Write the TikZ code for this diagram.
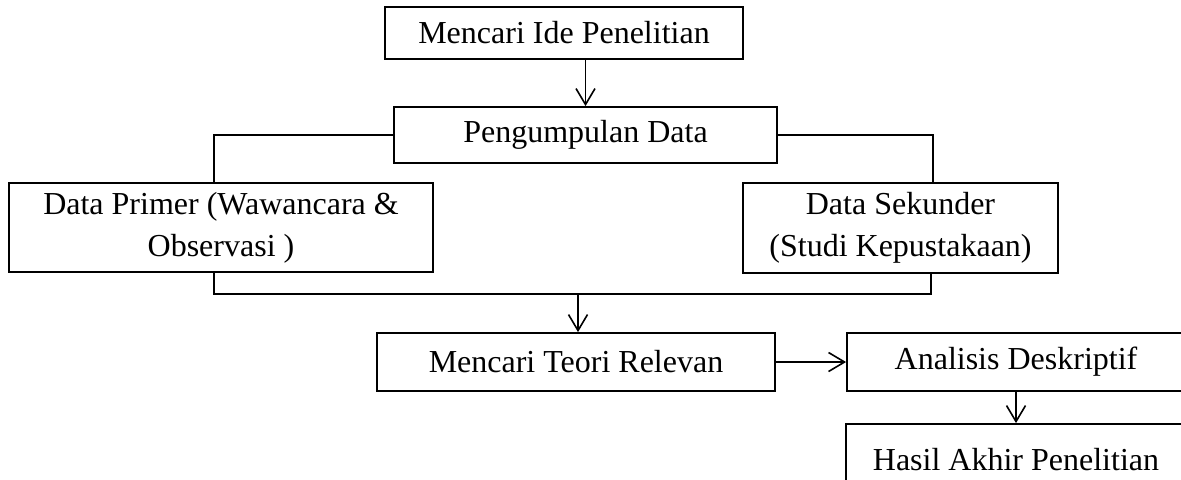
\documentclass[tikz,border=0pt]{standalone}
\usepackage{fontspec}
\setmainfont{Liberation Serif}
\usepackage{tikz}
\usetikzlibrary{arrows.meta,calc}
\tikzset{
  stepbox/.style={rectangle,draw=black,line width=0.9pt,align=center,inner sep=2pt,font=\fontsize{16}{21}\selectfont},
  link/.style={line width=0.8pt},
  arr/.style={line width=0.8pt,-{Straight Barb[length=8pt,width=9.5pt,line width=0.8pt]}},
}

\begin{document}
\begin{tikzpicture}[x=0.5pt,y=-0.5pt]

  % page frame (pixel units of the reference)
  \useasboundingbox (0,0) rectangle (1181,479);
  \clip (0,0) rectangle (1181,479);
  % boxes
  \node[stepbox,minimum width=179pt,minimum height=26pt] (ide) at (564,33) {Mencari Ide Penelitian};
  \node[stepbox,minimum width=191.5pt,minimum height=28pt] (kumpul) at (585.5,135) {Pengumpulan Data};
  \node[stepbox,minimum width=212pt,minimum height=44.5pt] (primer) at (221,227.5) {Data Primer (Wawancara \&\\Observasi )};
  \node[stepbox,minimum width=157.5pt,minimum height=45pt] (sekunder) at (900.5,228) {Data Sekunder\\(Studi Kepustakaan)};
  \node[stepbox,minimum width=199pt,minimum height=29pt] (teori) at (576,362) {Mencari Teori Relevan};
  \node[stepbox,minimum width=169pt,minimum height=29pt] (analisis) at (1016,362) {Analisis Deskriptif};
  \node[stepbox,minimum width=170pt,minimum height=36pt] (hasil) at (1016,460) {Hasil Akhir Penelitian};
  % branch points
  \coordinate (primerTop) at ($(primer.north west)!0.483!(primer.north east)$);
  \coordinate (primerBot) at ($(primer.south west)!0.483!(primer.south east)$);
  \coordinate (sekTop) at ($(sekunder.north west)!0.603!(sekunder.north east)$);
  \coordinate (sekBot) at ($(sekunder.south west)!0.597!(sekunder.south east)$);
  \coordinate (gabung) at (578,294);
  % connectors
  \draw[arr] (kumpul.north |- ide.south) -- (kumpul.north);
  \draw[link] (kumpul.west) -| (primerTop);
  \draw[link] (kumpul.east) -| (sekTop);
  \draw[link] (primerBot) |- (gabung) -| (sekBot);
  \draw[arr] (gabung) -- (gabung |- teori.north);
  \draw[arr] (teori.east) -- (analisis.west);
  \draw[arr] (analisis.south) -- (hasil.north);
\end{tikzpicture}
\end{document}
